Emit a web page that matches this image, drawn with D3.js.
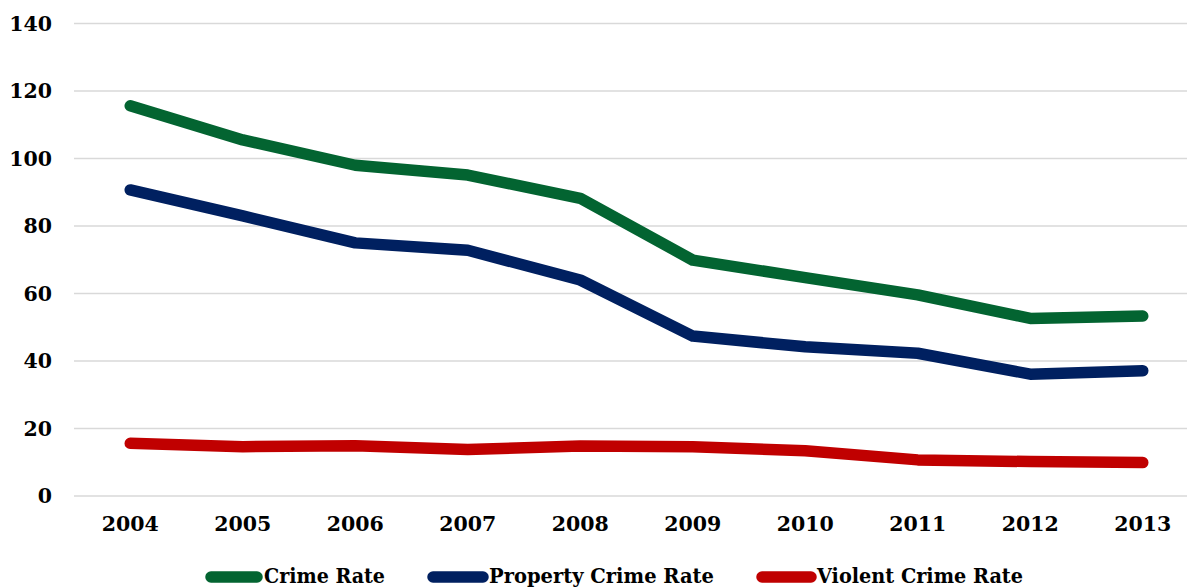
<!DOCTYPE html>
<html>
<head>
<meta charset="utf-8">
<script src="https://cdn.jsdelivr.net/npm/d3@7"></script>
<style>
  html, body { margin: 0; padding: 0; background: #fff; overflow: hidden; }
  svg { display: block; }
</style>
</head>
<body>
<svg id="chart" width="1187" height="588"></svg>
<script>
// Crime rates per year, 2004-2013
const years = ["2004","2005","2006","2007","2008","2009","2010","2011","2012","2013"];
const crimeRate    = [115.6, 105.5, 98.0, 95.1, 88.2, 69.9, 64.7, 59.6, 52.6, 53.3];
const propertyRate = [90.7, 83.0, 75.0, 72.8, 64.0, 47.4, 44.2, 42.3, 36.1, 37.1];
const violentRate  = [15.6, 14.6, 14.9, 13.8, 14.8, 14.6, 13.4, 10.7, 10.2, 9.9];
const yTicks = [0, 20, 40, 60, 80, 100, 120, 140];
const seriesNames = ["Crime Rate", "Property Crime Rate", "Violent Crime Rate"];
const seriesColors = ["#036431", "#002060", "#C00000"];

const series = [crimeRate, propertyRate, violentRate].map((values, i) => ({
  name: seriesNames[i], color: seriesColors[i], values
}));

const svg = d3.select("#chart");
const font = "'DejaVu Serif', serif";

const x = d3.scaleBand().domain(years).range([74, 1199]);
const y = d3.scaleLinear().domain([0, 140]).range([496, 23.5]);

// Horizontal gridlines
svg.append("g")
  .selectAll("line")
  .data(yTicks)
  .join("line")
  .attr("x1", 74).attr("x2", 1199)
  .attr("y1", d => y(d)).attr("y2", d => y(d))
  .attr("stroke", "#d9d9d9")
  .attr("stroke-width", 1.5);

// Y axis labels
const yAxis = svg.append("g")
  .attr("transform", "translate(52,0)")
  .call(d3.axisLeft(y).tickValues(yTicks).tickSize(0).tickPadding(0));
yAxis.select(".domain").remove();
yAxis.selectAll("text")
  .attr("font-family", font)
  .attr("font-weight", "bold")
  .attr("font-size", 20.5)
  .attr("fill", "#000");

// X axis labels
const xAxis = svg.append("g")
  .attr("transform", "translate(0,516)")
  .call(d3.axisBottom(x).tickSize(0).tickPadding(0));
xAxis.select(".domain").remove();
xAxis.selectAll("text")
  .attr("font-family", font)
  .attr("font-weight", "bold")
  .attr("font-size", 20.5)
  .attr("fill", "#000");

// Series lines
const line = d3.line()
  .x((d, i) => x(years[i]) + x.bandwidth() / 2)
  .y(d => y(d));

svg.append("g")
  .selectAll("path")
  .data(series)
  .join("path")
  .attr("d", d => line(d.values))
  .attr("fill", "none")
  .attr("stroke", d => d.color)
  .attr("stroke-width", 11.5)
  .attr("stroke-linecap", "round")
  .attr("stroke-linejoin", "round");

// Legend along the bottom edge
const legendItems = [
  { swatch: [211, 257], textX: 264, textW: 121 },
  { swatch: [433, 483], textX: 489, textW: 225 },
  { swatch: [762, 811], textX: 817, textW: 206 }
];
const legend = svg.append("g");
series.forEach((s, i) => {
  const item = legendItems[i];
  legend.append("line")
    .attr("x1", item.swatch[0]).attr("x2", item.swatch[1])
    .attr("y1", 577).attr("y2", 577)
    .attr("stroke", s.color)
    .attr("stroke-width", 11.5)
    .attr("stroke-linecap", "round");
  legend.append("text")
    .attr("x", item.textX)
    .attr("y", 583)
    .attr("font-family", font)
    .attr("font-weight", "bold")
    .attr("font-size", 21)
    .attr("textLength", item.textW)
    .attr("lengthAdjust", "spacingAndGlyphs")
    .attr("fill", "#000")
    .text(s.name);
});
</script>
</body>
</html>
